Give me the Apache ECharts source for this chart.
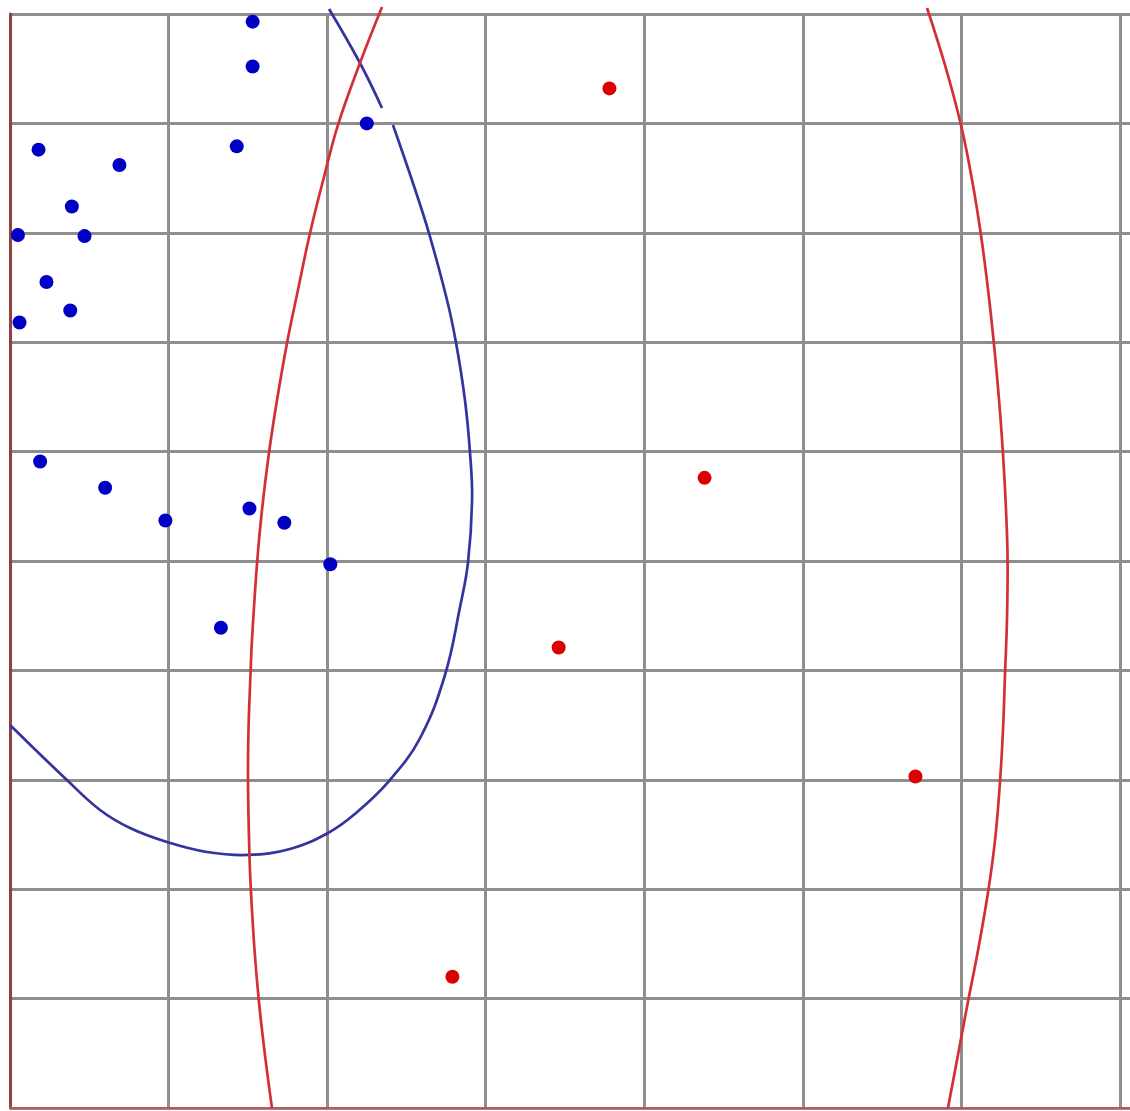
<!DOCTYPE html>
<html>
<head>
<meta charset="utf-8">
<script src="https://cdn.jsdelivr.net/npm/echarts@6/dist/echarts.min.js"></script>
<style>
  html, body { margin: 0; padding: 0; background: #ffffff; }
  #chart { width: 1130px; height: 1111px; }
</style>
</head>
<body>
<div id="chart"></div>
<script>
// Group A observations [x, y]
var groupA = [
  [1.53, 9.93], [1.53, 9.52], [2.25, 9.00], [0.18, 8.76], [0.69, 8.62],
  [1.43, 8.79], [0.39, 8.24], [0.05, 7.98], [0.47, 7.97], [0.23, 7.55],
  [0.38, 7.29], [0.06, 7.18], [0.19, 5.91], [0.60, 5.67], [0.98, 5.37],
  [1.51, 5.48], [1.73, 5.35], [2.02, 4.97], [1.33, 4.39]
];

// Group B observations [x, y]
var groupB = [
  [3.78, 9.32], [4.38, 5.76], [3.46, 4.21], [5.71, 3.03], [2.79, 1.20]
];

// Group A ellipse outline: main arc and the short piece near the top
var ellipseA = [
  [0.000, 3.501], [0.359, 2.998], [0.568, 2.724], [0.757, 2.559], [0.990, 2.431],
  [1.242, 2.340], [1.501, 2.313], [1.766, 2.367], [2.005, 2.514], [2.182, 2.697],
  [2.390, 2.989], [2.586, 3.382], [2.743, 3.958], [2.838, 4.580], [2.888, 4.982],
  [2.914, 5.558], [2.901, 5.987], [2.869, 6.472], [2.813, 6.993], [2.756, 7.386],
  [2.642, 7.998], [2.541, 8.455], [2.415, 8.985]
];
var ellipseATop = [
  [2.346, 9.141], [2.207, 9.552], [2.012, 10.046]
];

// Group B ellipse outline, left and right arcs
var ellipseBLeft = [
  [2.346, 10.064], [2.207, 9.552], [2.068, 8.985], [1.980, 8.510], [1.892, 7.998],
  [1.816, 7.477], [1.747, 6.993], [1.684, 6.472], [1.633, 5.987], [1.589, 5.466],
  [1.558, 4.982], [1.526, 4.278], [1.517, 3.976], [1.504, 3.455], [1.501, 2.971],
  [1.510, 2.313], [1.520, 1.965], [1.542, 1.444], [1.570, 0.969], [1.608, 0.484],
  [1.652, 0.000]
];
var ellipseBRight = [
  [5.783, 10.055], [5.896, 9.534], [5.997, 8.985], [6.067, 8.483], [6.123, 7.980],
  [6.168, 7.477], [6.205, 6.984], [6.237, 6.472], [6.262, 5.978], [6.281, 5.466],
  [6.291, 5.009], [6.287, 4.461], [6.275, 3.976], [6.262, 3.455], [6.243, 2.980],
  [6.212, 2.450], [6.168, 1.974], [6.105, 1.444], [6.042, 0.978], [5.978, 0.484],
  [5.915, 0.000]
];

// Axis ranges (grid cells are one unit wide and tall)
var xRange = [0, 8];
var yRange = [0, 10];

var gridLine = { show: true, lineStyle: { color: '#8e8e8e', width: 3 } };

var chart = echarts.init(document.getElementById('chart'), null, { renderer: 'canvas' });

// Draws a traced outline as one smooth path, positioned through the axes
function arc(points, color) {
  return {
    type: 'custom',
    data: points,
    encode: { x: 0, y: 1 },
    clip: false,
    silent: true,
    z: 3,
    renderItem: function (params, api) {
      if (params.dataIndex !== 0) return null;
      var pts = points.map(function (p) { return api.coord(p); });
      return {
        type: 'polyline',
        shape: { points: pts, smooth: 0.4 },
        style: { fill: null, stroke: color, lineWidth: 2.7 }
      };
    }
  };
}

chart.setOption({
  animation: false,
  backgroundColor: '#ffffff',
  // the plot runs past the right edge of the canvas
  grid: {
    left: 10, top: 14, width: 1268.6, height: 1094,
    outerBoundsMode: 'none'
  },
  xAxis: {
    type: 'value',
    min: xRange[0], max: xRange[1], interval: 1,
    axisLine: { show: true, onZero: false, lineStyle: { color: '#c25555', width: 2 } },
    axisTick: { show: false },
    axisLabel: { show: false },
    splitLine: gridLine
  },
  yAxis: {
    type: 'value',
    min: yRange[0], max: yRange[1], interval: 1,
    axisLine: { show: true, onZero: false, lineStyle: { color: '#944040', width: 3 } },
    axisTick: { show: false },
    axisLabel: { show: false },
    splitLine: gridLine
  },
  series: [
    arc(ellipseA, '#34349e'),
    arc(ellipseATop, '#34349e'),
    arc(ellipseBLeft, '#d42f35'),
    arc(ellipseBRight, '#d42f35'),
    {
      type: 'scatter',
      data: groupA,
      symbolSize: 14,
      itemStyle: { color: '#0000c4', opacity: 1 },
      z: 5
    },
    {
      type: 'scatter',
      data: groupB,
      symbolSize: 14,
      itemStyle: { color: '#dc0000', opacity: 1 },
      z: 5
    }
  ]
});
</script>
</body>
</html>
